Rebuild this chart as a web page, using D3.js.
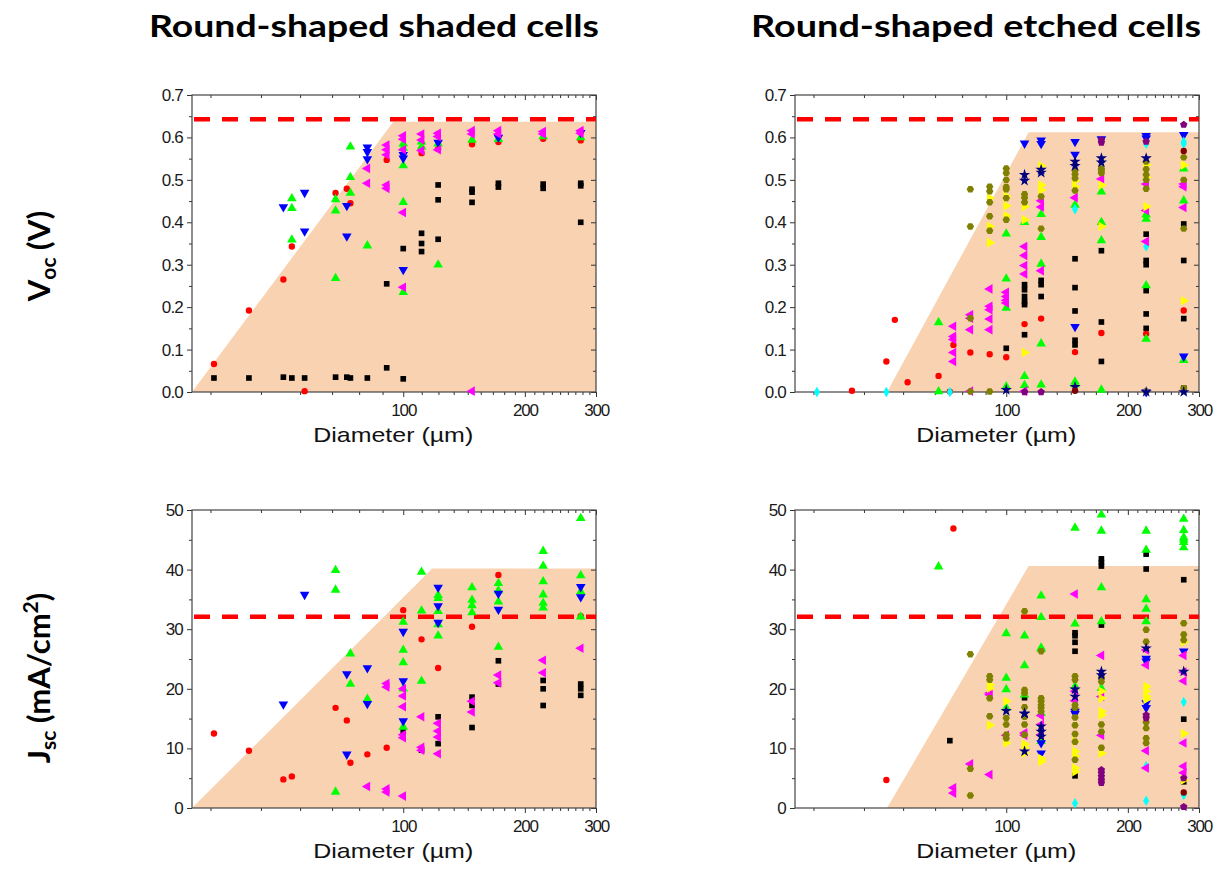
<!DOCTYPE html>
<html><head><meta charset="utf-8">
<script src="https://cdn.jsdelivr.net/npm/d3@7"></script>
<style>
body{margin:0;background:#fff;}
svg{display:block;}
</style></head><body>
<svg id="chart" width="1223" height="873"></svg>
<script>
// ---------- categories / ticks ----------
const diameters = [34, 41.5, 50.5, 53, 57, 68, 72.5, 74, 81.5, 91, 100, 111, 122, 148, 172, 222, 275];
const xDomain = [30, 300];
const xMajorTicks = [100, 200, 300];
const xMinorStep = 100 / 9;
const vocTicks = [0, 0.1, 0.2, 0.3, 0.4, 0.5, 0.6, 0.7];
const jscTicks = [0, 10, 20, 30, 40, 50];
const titles = ["Round-shaped shaded cells", "Round-shaped etched cells"];

// ---------- shaded cells, Voc (V) ----------
const shVocBlack = [[34,.033],[41.5,.033],[50.5,.035],[53,.033],[57,.033],[68,.035],[72.5,.035],[74,.033],[81.5,.033],[91,.057],[91,.255],[100,.031],[100,.338],[111,.374],[111,.35],[111,.331],[122,.488],[122,.453],[122,.36],[148,.478],[148,.471],[148,.447],[172,.492],[172,.483],[222,.49],[222,.48],[275,.492],[275,.486],[275,.40]];
const shVocRed = [[34,.066],[41.5,.192],[50.5,.265],[53,.343],[57,.002],[68,.469],[72.5,.479],[74,.445],[91,.547],[111,.563],[122,.573],[148,.584],[172,.589],[222,.597],[275,.593]];
const shVocGreen = [[53,.456],[53,.433],[53,.359],[68,.454],[68,.427],[68,.268],[74,.578],[74,.506],[74,.469],[81.5,.345],[100,.585],[100,.575],[100,.534],[100,.447],[100,.235],[111,.59],[111,.578],[122,.585],[122,.30],[148,.594],[172,.596],[222,.602],[275,.60]];
const shVocBlue = [[50.5,.436],[57,.47],[57,.379],[72.5,.439],[72.5,.367],[81.5,.577],[81.5,.566],[81.5,.549],[100,.559],[100,.551],[100,.288],[122,.588],[172,.60],[275,.611]];
const shVocMagenta = [[81.5,.527],[81.5,.492],[91,.582],[91,.571],[91,.559],[91,.488],[91,.48],[100,.604],[100,.596],[100,.571],[100,.423],[100,.247],[111,.608],[111,.594],[111,.569],[122,.61],[122,.602],[122,.571],[148,.616],[148,.608],[148,.002],[172,.616],[172,.608],[222,.614],[222,.608],[275,.616],[275,.61]];

// ---------- shaded cells, Jsc (mA/cm2) ----------
const shJscBlack = [[100,12.9],[111,9.7],[122,15.3],[122,10.8],[148,18.6],[148,17.2],[148,13.5],[172,24.7],[172,20.8],[222,21.4],[222,20.0],[222,17.2],[275,20.8],[275,20.0],[275,18.9]];
const shJscRed = [[34,12.5],[41.5,9.6],[50.5,4.8],[53,5.3],[68,16.8],[72.5,14.7],[74,7.6],[81.5,9.0],[91,10.1],[100,33.2],[111,28.3],[122,23.5],[148,30.4],[172,39.1],[275,32.2]];
const shJscGreen = [[68,39.9],[68,36.6],[68,2.7],[74,25.9],[74,20.8],[81.5,18.3],[100,31.2],[100,26.5],[100,24.4],[100,20.0],[100,13.6],[111,39.6],[111,33.1],[111,21.3],[122,35.7],[122,35.2],[122,33.0],[122,30.8],[122,28.9],[148,37.0],[148,34.9],[148,34.0],[148,32.8],[172,37.7],[172,36.5],[172,34.6],[172,27.0],[222,43.1],[222,40.6],[222,38.0],[222,35.8],[222,34.4],[222,33.6],[275,48.6],[275,39.0],[275,36.3],[275,32.1]];
const shJscBlue = [[50.5,17.4],[57,35.8],[72.5,22.5],[72.5,9.0],[81.5,23.5],[81.5,17.5],[100,29.6],[100,21.3],[100,14.6],[122,37.0],[122,33.9],[122,31.1],[172,36.0],[172,33.3],[275,37.1],[275,35.4]];
const shJscMagenta = [[81.5,3.6],[91,20.9],[91,20.3],[91,3.2],[91,2.7],[100,20.0],[100,18.8],[100,17.0],[100,12.3],[100,11.8],[100,2.0],[111,15.3],[111,10.2],[111,9.7],[122,14.2],[122,12.9],[122,11.9],[122,9.1],[148,17.9],[148,16.1],[172,22.3],[172,21.0],[222,24.8],[222,22.7],[275,26.8]];

// ---------- etched cells, Voc (V) ----------
const etVocBlack = [[100,.103],[111,.253],[111,.241],[111,.225],[111,.213],[111,.206],[111,.135],[122,.263],[122,.253],[122,.225],[148,.314],[148,.246],[148,.191],[148,.122],[148,.111],[172,.333],[172,.165],[172,.072],[222,.372],[222,.31],[222,.30],[222,.239],[222,.184],[222,.15],[275,.396],[275,.31],[275,.173],[275,.009]];
const etVocRed = [[41.5,.003],[50.5,.072],[53,.17],[57,.023],[68,.038],[72.5,.001],[74,.111],[81.5,.093],[91,.089],[100,.082],[111,.16],[122,.173],[148,.094],[172,.139],[222,.137],[275,.192]];
const etVocGreen = [[68,.164],[68,.001],[100,.373],[100,.267],[100,.198],[100,.013],[111,.40],[111,.037],[111,.016],[122,.419],[122,.365],[122,.302],[122,.114],[122,.017],[148,.441],[148,.024],[148,.018],[172,.472],[172,.40],[172,.357],[172,.005],[222,.418],[222,.408],[222,.251],[222,.125],[275,.526],[275,.451],[275,.075]];
const etVocBlue = [[111,.586],[122,.593],[122,.585],[148,.59],[148,.56],[148,.154],[172,.596],[222,.604],[222,.598],[222,.0],[275,.606],[275,.084]];
const etVocCyan = [[34,.0],[50.5,.0],[72.5,.0],[148,.431],[222,.585],[222,.343],[275,.59],[275,.585]];
const etVocMagenta = [[74,.155],[74,.131],[74,.124],[74,.093],[74,.072],[81.5,.182],[81.5,.174],[81.5,.147],[81.5,.002],[91,.243],[91,.202],[91,.194],[91,.172],[91,.147],[100,.235],[100,.225],[100,.216],[100,.21],[111,.343],[111,.322],[111,.298],[111,.278],[111,.002],[122,.451],[122,.436],[122,.286],[148,.458],[172,.502],[222,.49],[222,.428],[222,.355],[275,.49],[275,.484],[275,.435]];
const etVocYellow = [[91,.457],[91,.39],[91,.352],[100,.461],[100,.439],[100,.415],[111,.437],[111,.406],[111,.093],[122,.533],[122,.488],[122,.476],[148,.498],[148,.484],[172,.488],[172,.39],[222,.535],[222,.506],[222,.437],[275,.535],[275,.215]];
const etVocOlive = [[81.5,.478],[81.5,.39],[81.5,.174],[81.5,.001],[91,.484],[91,.473],[91,.447],[91,.414],[91,.38],[91,.001],[100,.527],[100,.516],[100,.50],[100,.483],[100,.478],[100,.457],[100,.406],[111,.466],[111,.458],[111,.447],[122,.461],[122,.385],[148,.522],[148,.513],[148,.504],[148,.475],[172,.527],[172,.522],[172,.516],[222,.543],[222,.525],[222,.512],[222,.50],[222,.479],[222,.001],[275,.553],[275,.50],[275,.385],[275,.009]];
const etVocNavy = [[100,.005],[111,.512],[111,.498],[122,.524],[122,.517],[148,.543],[148,.533],[148,.012],[172,.551],[172,.541],[222,.551],[222,.0],[275,.0]];
const etVocPurple = [[111,.0],[122,.0],[172,.594],[172,.588],[222,.59],[275,.63]];
const etVocWine = [[148,.003],[275,.568]];

// ---------- etched cells, Jsc (mA/cm2) ----------
const etJscBlack = [[72.5,11.3],[111,18.5],[148,29.4],[148,28.9],[148,27.8],[148,26.3],[148,5.4],[172,41.8],[172,41.2],[172,40.6],[172,30.7],[222,42.6],[222,40.1],[275,38.3],[275,14.9],[275,4.4]];
const etJscRed = [[50.5,4.7],[74,46.9]];
const etJscGreen = [[68,40.5],[100,29.3],[100,21.8],[100,19.9],[100,16.8],[111,28.9],[111,23.9],[111,19.0],[122,35.6],[122,32.0],[122,26.9],[122,26.7],[122,15.9],[122,11.2],[148,47.0],[148,30.9],[148,20.4],[172,49.2],[172,46.5],[172,37.0],[172,31.3],[172,20.1],[222,46.5],[222,43.3],[222,35.0],[222,33.4],[222,31.3],[275,48.5],[275,46.6],[275,45.4],[275,45.0],[275,44.6],[275,43.7]];
const etJscBlue = [[122,10.9],[122,9.2],[148,16.2],[148,15.8],[222,25.1],[222,24.6],[222,17.6],[222,16.8],[275,26.3]];
const etJscCyan = [[148,0.8],[222,7.0],[222,1.2],[275,17.8],[275,2.2]];
const etJscMagenta = [[74,3.4],[74,2.5],[81.5,7.4],[91,19.3],[91,19.0],[91,5.6],[100,12.2],[111,12.6],[111,12.2],[122,15.5],[122,14.0],[122,12.3],[148,35.9],[148,19.6],[148,18.0],[172,25.6],[172,18.7],[172,12.2],[222,26.5],[222,24.0],[222,9.6],[222,6.7],[275,25.6],[275,22.8],[275,21.3],[275,10.9],[275,7.0],[275,5.9]];
const etJscYellow = [[91,20.7],[91,20.1],[91,13.9],[100,17.9],[100,10.9],[111,10.7],[111,10.1],[111,9.2],[122,8.3],[122,7.8],[148,11.2],[148,9.5],[148,8.7],[148,6.7],[148,6.1],[172,19.6],[172,18.4],[172,16.2],[172,15.6],[172,9.2],[222,20.4],[222,19.6],[222,18.7],[222,18.2],[275,27.9],[275,12.5],[275,4.7]];
const etJscOlive = [[81.5,25.8],[81.5,6.6],[81.5,2.1],[91,22.1],[91,21.5],[91,18.4],[91,15.4],[100,15.1],[100,14.0],[100,12.3],[100,11.7],[111,33.0],[111,19.8],[111,19.3],[111,16.9],[111,15.3],[111,14.0],[111,12.3],[122,26.3],[122,18.4],[122,17.9],[122,17.3],[122,16.8],[122,16.2],[148,22.1],[148,21.5],[148,17.3],[148,16.8],[148,15.2],[148,13.9],[148,12.4],[148,11.1],[148,8.1],[172,21.9],[172,21.2],[172,14.0],[172,12.8],[172,10.1],[222,29.9],[222,27.9],[222,14.4],[222,13.4],[222,11.7],[222,10.9],[275,31.0],[275,29.1],[275,28.2]];
const etJscNavy = [[100,16.3],[111,15.9],[111,15.8],[111,9.5],[122,13.7],[122,12.8],[122,12.0],[148,19.9],[148,18.7],[172,22.9],[172,22.3],[222,26.8],[275,22.9]];
const etJscPurple = [[172,6.4],[172,5.9],[172,5.3],[172,4.7],[172,4.2],[222,15.6],[222,15.1],[275,5.0],[275,0.2]];
const etJscWine = [[275,2.6]];

// ---------- shaded regions & reference lines (data coordinates) ----------
const shVocRegion = [[30,0],[94.5,0.637],[300,0.637],[300,0]];
const etVocRegion = [[50.7,0],[113.6,0.612],[300,0.612],[300,0]];
const shJscRegion = [[30,0],[118,40.2],[300,40.2],[300,0]];
const etJscRegion = [[50.7,0],[113.6,40.6],[300,40.6],[300,0]];
const vocRef = 0.643;
const jscRef = 32.1;

// ---------- styles ----------
const styles = {
  black:   {color:"#000000", shape:"square"},
  red:     {color:"#FF0000", shape:"circle"},
  green:   {color:"#00FF00", shape:"up"},
  blue:    {color:"#0000FF", shape:"down"},
  cyan:    {color:"#00FFFF", shape:"diamond"},
  magenta: {color:"#FF00FF", shape:"left"},
  yellow:  {color:"#FFFF00", shape:"right"},
  olive:   {color:"#808000", shape:"hexagon"},
  navy:    {color:"#000080", shape:"star"},
  purple:  {color:"#800080", shape:"pentagon"},
  wine:    {color:"#800000", shape:"circle"}
};

function polySymbol(n, rot){
  return {draw(ctx, size){
    const area = n/2*Math.sin(2*Math.PI/n);
    const r = Math.sqrt(size/area);
    for(let i=0;i<n;i++){
      const a = rot + i*2*Math.PI/n;
      const x = r*Math.sin(a), y = -r*Math.cos(a);
      if(i===0) ctx.moveTo(x,y); else ctx.lineTo(x,y);
    }
    ctx.closePath();
  }};
}
const shapeDefs = {
  square:{type:d3.symbolSquare, size:32, rot:0},
  circle:{type:d3.symbolCircle, size:32, rot:0},
  up:{type:d3.symbolTriangle, size:40, rot:0},
  down:{type:d3.symbolTriangle, size:40, rot:180},
  left:{type:d3.symbolTriangle, size:40, rot:-90},
  right:{type:d3.symbolTriangle, size:40, rot:90},
  diamond:{type:d3.symbolDiamond, size:32, rot:0},
  hexagon:{type:polySymbol(6, Math.PI/6), size:36, rot:0},
  star:{type:d3.symbolStar, size:40, rot:0},
  pentagon:{type:polySymbol(5, 0), size:36, rot:0}
};

const panels = [
  {left:192, top:95, w:404, h:297, yDomain:[0,0.7], ticks:vocTicks, minor:0.05, fmt:d3.format(".1f"),
   region:shVocRegion, ref:vocRef,
   series:[["black",shVocBlack],["red",shVocRed],["green",shVocGreen],["blue",shVocBlue],["magenta",shVocMagenta]]},
  {left:795, top:95, w:404, h:297, yDomain:[0,0.7], ticks:vocTicks, minor:0.05, fmt:d3.format(".1f"),
   region:etVocRegion, ref:vocRef,
   series:[["black",etVocBlack],["red",etVocRed],["green",etVocGreen],["blue",etVocBlue],["cyan",etVocCyan],["magenta",etVocMagenta],["yellow",etVocYellow],["olive",etVocOlive],["navy",etVocNavy],["purple",etVocPurple],["wine",etVocWine]]},
  {left:192, top:510, w:404, h:298, yDomain:[0,50], ticks:jscTicks, minor:5, fmt:d3.format("d"),
   region:shJscRegion, ref:jscRef,
   series:[["black",shJscBlack],["red",shJscRed],["green",shJscGreen],["blue",shJscBlue],["magenta",shJscMagenta]]},
  {left:795, top:510, w:404, h:298, yDomain:[0,50], ticks:jscTicks, minor:5, fmt:d3.format("d"),
   region:etJscRegion, ref:jscRef,
   series:[["black",etJscBlack],["red",etJscRed],["green",etJscGreen],["blue",etJscBlue],["cyan",etJscCyan],["magenta",etJscMagenta],["yellow",etJscYellow],["olive",etJscOlive],["navy",etJscNavy],["purple",etJscPurple],["wine",etJscWine]]}
];

const svg = d3.select("#chart");
const tickFont = "'Liberation Sans', Arial, sans-serif";
const xMinorTicks = d3.range(1, 27).map(k => k*xMinorStep).filter(v => v > xDomain[0] && v < xDomain[1] && Math.abs(v-100)>1 && Math.abs(v-200)>1);

panels.forEach(p => {
  const g = svg.append("g").attr("transform", `translate(${p.left},${p.top})`);
  const x = d3.scaleLog().domain(xDomain).range([0, p.w]);
  const y = d3.scaleLinear().domain(p.yDomain).range([p.h, 0]);
  const yMinorTicks = d3.range(p.yDomain[0], p.yDomain[1] + 1e-9, p.minor).filter(v => !p.ticks.some(t => Math.abs(t - v) < 1e-9));

  // shaded region
  g.append("path")
    .attr("d", d3.line().x(d => x(d[0])).y(d => y(d[1]))(p.region) + "Z")
    .attr("fill", "#F9D3B1");

  const styleAxis = sel => {
    sel.select(".domain").remove();
    sel.selectAll("line").attr("stroke", "#333").attr("stroke-width", 1);
    sel.selectAll("text").attr("font-family", tickFont).attr("fill", "#1a1a1a");
  };
  // bottom
  g.append("g").attr("transform", `translate(0,${p.h})`)
    .call(d3.axisBottom(x).tickValues(xMajorTicks).tickFormat(d3.format("d")).tickSize(5).tickPadding(7))
    .call(styleAxis).call(s => s.selectAll("text").attr("font-size", 17).attr("letter-spacing", -1.2));
  g.append("g").attr("transform", `translate(0,${p.h})`)
    .call(d3.axisBottom(x).tickValues(xMinorTicks).tickFormat("").tickSize(3)).call(styleAxis);
  // top (inward)
  g.append("g").call(d3.axisTop(x).tickValues(xMajorTicks).tickFormat("").tickSize(-5)).call(styleAxis);
  g.append("g").call(d3.axisTop(x).tickValues(xMinorTicks).tickFormat("").tickSize(-3)).call(styleAxis);
  // left
  g.append("g")
    .call(d3.axisLeft(y).tickValues(p.ticks).tickFormat(p.fmt).tickSize(5).tickPadding(4))
    .call(styleAxis).call(s => s.selectAll("text").attr("font-size", 17).attr("letter-spacing", -0.8));
  g.append("g").call(d3.axisLeft(y).tickValues(yMinorTicks).tickFormat("").tickSize(3)).call(styleAxis);
  // right (inward)
  g.append("g").attr("transform", `translate(${p.w},0)`)
    .call(d3.axisRight(y).tickValues(p.ticks).tickFormat("").tickSize(-5)).call(styleAxis);
  g.append("g").attr("transform", `translate(${p.w},0)`)
    .call(d3.axisRight(y).tickValues(yMinorTicks).tickFormat("").tickSize(-3)).call(styleAxis);

  // frame
  g.append("rect").attr("x", 0).attr("y", 0).attr("width", p.w).attr("height", p.h)
    .attr("fill", "none").attr("stroke", "#444").attr("stroke-width", 1.2);

  // reference line
  g.append("line").attr("x1", x(xDomain[0]) + 2).attr("x2", x(xDomain[1]))
    .attr("y1", y(p.ref)).attr("y2", y(p.ref))
    .attr("stroke", "#FF0000").attr("stroke-width", 4.5).attr("stroke-dasharray", "16,12");

  // markers
  p.series.forEach(([name, data]) => {
    const st = styles[name];
    const sd = shapeDefs[st.shape];
    const path = d3.symbol().type(sd.type).size(sd.size)();
    g.append("g").selectAll("path").data(data).join("path")
      .attr("d", path)
      .attr("transform", d => `translate(${x(d[0])},${y(d[1])}) rotate(${sd.rot})`)
      .attr("fill", st.color);
  });

  // x axis title
  g.append("text").attr("x", x(100) - 10).attr("y", p.h + 50)
    .attr("text-anchor", "middle").attr("font-family", tickFont).attr("font-size", 21)
    .attr("textLength", 160).attr("lengthAdjust", "spacingAndGlyphs")
    .attr("fill", "#111").text("Diameter (µm)");
});

// panel titles
const titleFont = "Lato, 'Open Sans', sans-serif";
[[374, titles[0]], [976, titles[1]]].forEach(([cx, t]) => {
  svg.append("text").attr("x", cx).attr("y", 37).attr("text-anchor", "middle")
    .attr("font-family", titleFont).attr("font-weight", "bold").attr("font-size", 31)
    .attr("textLength", 450).attr("lengthAdjust", "spacingAndGlyphs").text(t);
});

// y axis labels
const yl1 = svg.append("text").attr("transform", "translate(50,256) rotate(-90)")
  .attr("text-anchor", "middle").attr("font-family", titleFont).attr("font-weight", "bold").attr("font-size", 31);
yl1.append("tspan").text("V");
yl1.append("tspan").attr("font-size", 21).attr("dy", 6).text("oc");
yl1.append("tspan").attr("dy", -6).text(" (V)");

const yl2 = svg.append("text").attr("transform", "translate(50,678) rotate(-90)")
  .attr("text-anchor", "middle").attr("font-family", titleFont).attr("font-weight", "bold").attr("font-size", 31);
yl2.append("tspan").text("J");
yl2.append("tspan").attr("font-size", 21).attr("dy", 6).text("sc");
yl2.append("tspan").attr("dy", -6).text(" (mA/cm");
yl2.append("tspan").attr("font-size", 21).attr("dy", -12).text("2");
yl2.append("tspan").attr("dy", 12).text(")");
</script>
</body></html>
